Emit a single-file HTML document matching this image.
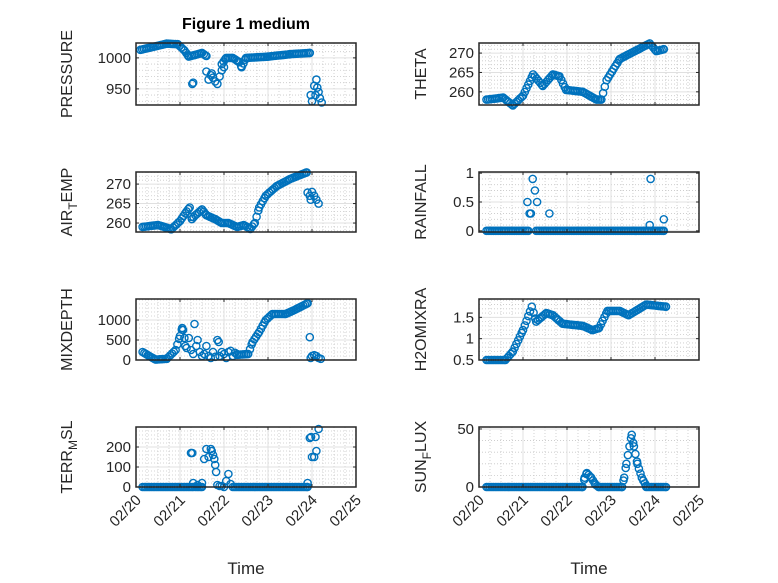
<!DOCTYPE html>
<html><head><meta charset="utf-8"><style>
html,body{margin:0;padding:0;background:#fff;}
svg{display:block;font-family:"Liberation Sans",sans-serif;}
</style></head><body>
<svg id="s" width="778" height="583" viewBox="0 0 778 583" xmlns="http://www.w3.org/2000/svg">
<rect width="778" height="583" fill="#fff"/>
<text x="246" y="29" text-anchor="middle" font-weight="bold" font-size="16" fill="#000">Figure 1 medium</text>
</svg>
<script>
const S=document.getElementById('s');const NS='http://www.w3.org/2000/svg';
function el(t,a,txt){const e=document.createElementNS(NS,t);for(const k in a)e.setAttribute(k,a[k]);if(txt!==undefined)e.textContent=txt;S.appendChild(e);return e;}
function interp(keys,step){const o=[];for(let i=0;i<keys.length-1;i++){const[a,va]=keys[i],[b,vb]=keys[i+1];for(let t=a;t<b-1e-9;t+=step)o.push([t,va+(vb-va)*(t-a)/(b-a)]);}o.push(keys[keys.length-1]);return o;}
function zeros(a,b,step){return interp([[a,0],[b,0]],step);}
const st=0.04;
function panel(p){
 const {x0,y0,x1,y1,v0,v1,yticks,minor,label,sub,pts,left}=p;
 const X=t=>x0+(t)*(x1-x0)/5, Y=v=>y1-(v-v0)*(y1-y0)/(v1-v0);
 for(let t=0.25;t<5;t+=0.25){if(Math.abs(t-Math.round(t))<1e-6)continue;el('line',{x1:X(t),x2:X(t),y1:y0,y2:y1,stroke:'#c8c8c8','stroke-width':0.8,'stroke-dasharray':'1,2'});}
 let mstart=Math.ceil(v0/minor)*minor;
 for(let v=mstart;v<v1;v+=minor){if(yticks.some(k=>Math.abs(k-v)<1e-6))continue;el('line',{x1:x0,x2:x1,y1:Y(v),y2:Y(v),stroke:'#c8c8c8','stroke-width':0.8,'stroke-dasharray':'1,2'});}
 for(let t=1;t<5;t++)el('line',{x1:X(t),x2:X(t),y1:y0,y2:y1,stroke:'#e0e0e0','stroke-width':1});
 yticks.forEach(v=>{el('line',{x1:x0,x2:x1,y1:Y(v),y2:Y(v),stroke:'#e0e0e0','stroke-width':1});});
 pts.forEach(([t,v])=>el('circle',{cx:X(t).toFixed(1),cy:Y(v).toFixed(1),r:3.6,fill:'none',stroke:'#0072BD','stroke-width':1.4}));
 el('rect',{x:x0,y:y0,width:x1-x0,height:y1-y0,fill:'none',stroke:'#262626','stroke-width':1.5});
 for(let t=1;t<5;t++){el('line',{x1:X(t),x2:X(t),y1:y1,y2:y1-3,stroke:'#262626','stroke-width':1});el('line',{x1:X(t),x2:X(t),y1:y0,y2:y0+3,stroke:'#262626','stroke-width':1});}
 yticks.forEach(v=>{el('line',{x1:x0,x2:x0+3,y1:Y(v),y2:Y(v),stroke:'#262626'});el('line',{x1:x1,x2:x1-3,y1:Y(v),y2:Y(v),stroke:'#262626'});
  el('text',{x:x0-5,y:Y(v)+5,'text-anchor':'end','font-size':15,fill:'#262626'},String(v));});
 const lx=x0-(p.lw||58), ly=(y0+y1)/2;
 const tx=el('text',{x:0,y:0,'text-anchor':'middle','font-size':16,fill:'#262626',transform:`translate(${lx},${ly}) rotate(-90)`});
 if(sub){const a=document.createElementNS(NS,'tspan');a.textContent=sub[0];tx.appendChild(a);
  const b=document.createElementNS(NS,'tspan');b.setAttribute('dy','5');b.setAttribute('font-size','12');b.textContent=sub[1];tx.appendChild(b);
  const c=document.createElementNS(NS,'tspan');c.setAttribute('dy','-5');c.textContent=sub[2];tx.appendChild(c);}
 else tx.textContent=label;
 if(p.xlab){const labs=['02/20','02/21','02/22','02/23','02/24','02/25'];
  labs.forEach((l,i)=>el('text',{x:0,y:0,'text-anchor':'end','font-size':15,fill:'#262626',transform:`translate(${X(i)+6},${y1+14}) rotate(-45)`},l));
  el('text',{x:(x0+x1)/2,y:574,'text-anchor':'middle','font-size':17,fill:'#262626'},'Time');}
}
const L=[136,356],R=[479,699];
const rows=[[43,105],[172,232],[299,360],[427,487]];
let pr=interp([[0.1,1013],[0.4,1018],[0.7,1023],[0.95,1022],[1.1,1012],[1.2,1002],[1.35,1005],[1.5,1008],[1.6,1003]],st)
 .concat([[1.28,958],[1.3,960],[1.6,978],[1.65,965],[1.7,972],[1.75,968],[1.8,962],[1.85,958],[1.9,970],[1.95,980],[2.0,985],[1.72,975]])
 .concat(interp([[1.95,990],[2.05,1000],[2.2,1000],[2.35,993],[2.4,985],[2.5,1000],[3.0,1002],[3.5,1006],[3.95,1008]],st))
 .concat([[3.97,940],[4.0,930],[4.05,955],[4.1,965],[4.12,952],[4.15,945],[4.18,935],[4.22,928],[4.08,940]]);
panel({x0:L[0],x1:L[1],y0:rows[0][0],y1:rows[0][1],v0:924,v1:1024,yticks:[950,1000],minor:10,label:'PRESSURE',pts:pr,lw:64});
let at=interp([[0.15,259],[0.5,259.5],[0.7,258.8],[0.8,258.4],[1.0,260.5],[1.15,263],[1.22,264],[1.27,261],[1.35,262],[1.5,263.5],[1.6,262],[1.8,261],[1.95,260],[2.1,260],[2.3,259],[2.45,259.5],[2.6,258.5],[2.7,260],[2.8,264],[2.95,267],[3.2,269.5],[3.5,271.3],[3.88,273]],st)
 .concat([[3.9,267.8],[3.95,267],[4.0,268],[4.05,267],[4.1,266],[4.15,265],[3.97,266]]);
panel({x0:L[0],x1:L[1],y0:rows[1][0],y1:rows[1][1],v0:257.7,v1:273.1,yticks:[260,265,270],minor:1,sub:['AIR','T','EMP'],pts:at,lw:64});
let md=interp([[0.15,200],[0.3,100],[0.45,10],[0.7,30],[0.9,250],[1.0,600],[1.05,800]],st)
 .concat([[1.07,750],[1.1,550],[1.12,350],[1.15,300],[1.2,550],[1.25,250],[1.3,150],[1.33,900],[1.37,350],[1.4,500],[1.45,200],[1.5,100],[1.55,150],[1.6,350],[1.65,100],[1.7,50],[1.75,200],[1.8,80],[1.85,500],[1.88,450],[1.9,100],[1.95,200],[2.0,150],[2.05,50],[2.1,200],[2.15,230],[2.2,100],[2.25,180],[2.3,150]])
 .concat(interp([[2.3,130],[2.55,150],[2.65,450],[2.8,700],[2.95,1000],[3.1,1150],[3.4,1150],[3.6,1250],[3.9,1420]],st))
 .concat([[3.95,570],[3.97,50],[4.0,100],[4.05,120],[4.1,100],[4.15,50],[4.2,30]]);
panel({x0:L[0],x1:L[1],y0:rows[2][0],y1:rows[2][1],v0:0,v1:1525,yticks:[0,500,1000],minor:100,label:'MIXDEPTH',pts:md,lw:64});
let te=zeros(0.15,1.3,st).concat(zeros(1.35,1.5,st)).concat(zeros(2.2,3.9,st)).concat([[1.25,170],[1.28,170],[1.3,20],[1.4,10],[1.5,20],[1.55,140],[1.6,190],[1.65,150],[1.7,190],[1.72,180],[1.75,160],[1.78,140],[1.8,110],[1.82,75],[1.85,10],[1.9,5],[1.95,5],[2.0,0],[2.05,30],[2.1,65],[2.15,15],[3.9,20],[3.95,245],[3.98,250],[4.0,150],[4.05,150],[4.08,250],[4.1,180],[4.15,290]]);
panel({x0:L[0],x1:L[1],y0:rows[3][0],y1:rows[3][1],v0:0,v1:300,yticks:[0,100,200],minor:20,sub:['TERR','M','SL'],pts:te,xlab:true,lw:64});
let th=interp([[0.17,258],[0.55,258.5],[0.77,256.5],[1.0,259],[1.23,264.5],[1.45,261.5],[1.68,264.5],[1.83,264],[1.98,260.5],[2.36,260],[2.67,258],[2.78,258],[2.9,263],[3.2,268.5],[3.88,272.5],[4.03,270.5],[4.2,271]],st);
panel({x0:R[0],x1:R[1],y0:rows[0][0],y1:rows[0][1],v0:256.6,v1:272.6,yticks:[260,265,270],minor:1,label:'THETA',pts:th,lw:53});
let rf=zeros(0.17,1.12,st).concat(zeros(1.3,4.2,st)).concat([[1.1,0.5],[1.15,0.3],[1.18,0.3],[1.22,0.9],[1.27,0.7],[1.32,0.5],[1.6,0.3],[3.9,0.9],[3.88,0.1],[4.2,0.2]]);
panel({x0:R[0],x1:R[1],y0:rows[1][0],y1:rows[1][1],v0:-0.02,v1:1.02,yticks:[0,0.5,1],minor:0.1,label:'RAINFALL',pts:rf,lw:53});
let hw=interp([[0.17,0.5],[0.6,0.5],[0.77,0.7],[1.0,1.2],[1.2,1.75],[1.3,1.4],[1.53,1.6],[1.68,1.55],[1.9,1.35],[2.36,1.3],[2.58,1.2],[2.73,1.25],[2.92,1.65],[3.2,1.65],[3.4,1.55],[3.8,1.8],[4.25,1.75]],st);
panel({x0:R[0],x1:R[1],y0:rows[2][0],y1:rows[2][1],v0:0.5,v1:1.93,yticks:[0.5,1,1.5],minor:0.1,label:'H2OMIXRA',pts:hw,lw:53});
let sf=zeros(0.17,2.35,st).concat(interp([[2.35,0],[2.4,8],[2.45,12],[2.55,8],[2.65,2],[2.72,0]],st)).concat(zeros(2.72,3.25,st))
 .concat(interp([[3.25,0],[3.3,8],[3.35,20],[3.42,35],[3.47,45],[3.52,35],[3.6,20],[3.7,8],[3.8,1]],0.035)).concat(zeros(3.8,4.25,st));
panel({x0:R[0],x1:R[1],y0:rows[3][0],y1:rows[3][1],v0:0,v1:51.7,yticks:[0,50],minor:10,sub:['SUN','F','LUX'],pts:sf,xlab:true,lw:53});
</script>
</body></html>
